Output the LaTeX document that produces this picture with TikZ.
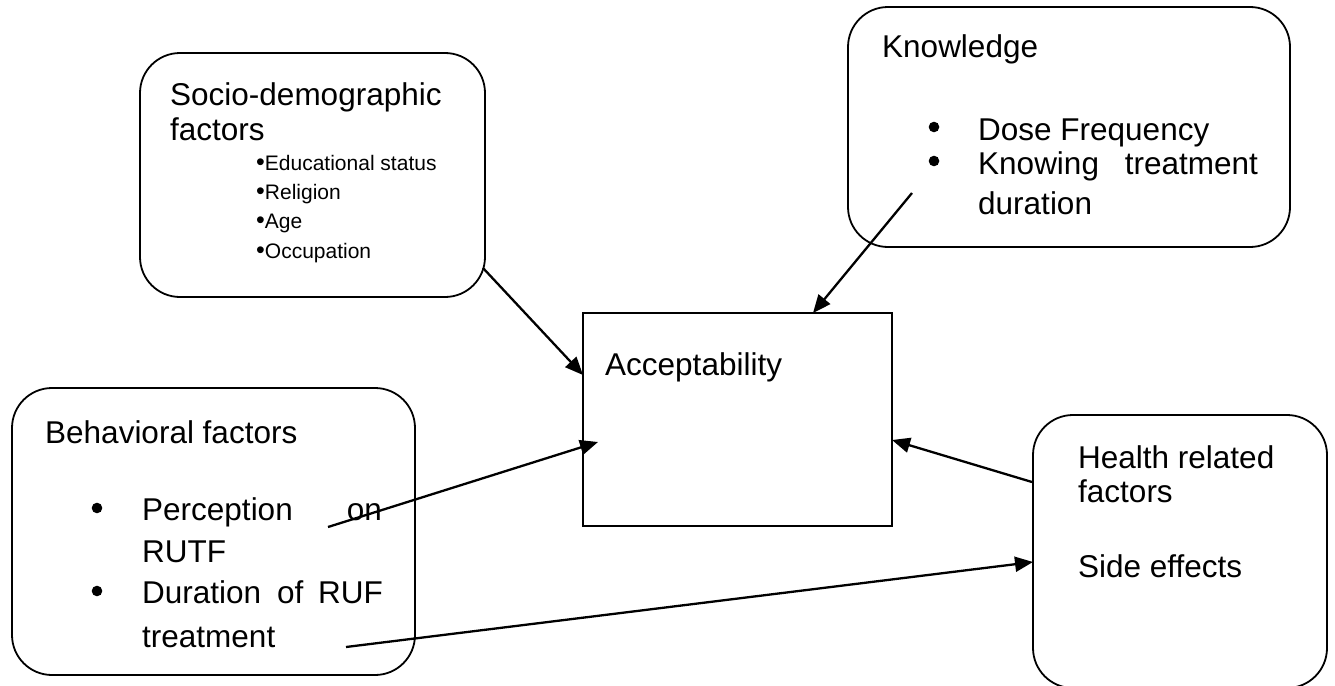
\documentclass[tikz,border=0pt]{standalone}
\usepackage{fontspec}
\setmainfont{Liberation Sans}
\usetikzlibrary{arrows.meta}
\newcommand{\smallbul}{{\fontsize{25}{25}\selectfont •}}
\begin{document}
\begin{tikzpicture}[x=1pt,y=-1pt,
  rbox/.style={draw,line width=1.8pt,rounded corners=40pt,inner sep=0pt},
  sbox/.style={draw,line width=1.8pt,inner sep=0pt},
  txt/.style={anchor=base west,inner sep=0pt,font=\fontsize{31.5}{38}\selectfont},
  txte/.style={anchor=base east,inner sep=0pt,font=\fontsize{31.5}{38}\selectfont},
  small/.style={anchor=base west,inner sep=0pt,font=\fontsize{21}{25}\selectfont},
  bulletdot/.style={fill=black},
  conn/.style={line width=2.3pt,-{Triangle[length=18pt,width=15pt]}}]
\useasboundingbox (0,0) rectangle (1335,685);
% boxes
\node[rbox,minimum width=345pt,minimum height=244pt] (socio) at (312.5,175) {};
\node[rbox,minimum width=442pt,minimum height=240pt] (know) at (1069,127) {};
\node[rbox,minimum width=403pt,minimum height=287pt] (behav) at (213.5,531.5) {};
\node[rbox,minimum width=294pt,minimum height=273pt] (health) at (1180,551.5) {};
\node[sbox,minimum width=309pt,minimum height=213pt] (acc) at (737.5,419.5) {};
% socio texts
\node[txt] (s1) at (170,105) {Socio-demographic};
\node[txt] (s2) at (170,140) {factors};
\node[small] (s3) at (256,170) {\smallbul Educational status};
\node[small] (s4) at (256,199) {\smallbul Religion};
\node[small] (s5) at (256,228) {\smallbul Age};
\node[small] (s6) at (256,258) {\smallbul Occupation};
% knowledge texts
\node[txt] (k1) at (882,58) {Knowledge};
\fill[bulletdot] (934,127) circle (5.3pt);
\node[txt] (k3) at (978,140) {Dose Frequency};
\fill[bulletdot] (934,161) circle (5.3pt);
\node[txt] (k5) at (978,174) {Knowing};
\node[txte] (k6) at (1258,174) {treatment};
\node[txt] (k7) at (978,214) {duration};
% behavioral texts
\node[txt] (b1) at (45,443) {Behavioral factors};
\fill[bulletdot] (97,508) circle (5.3pt);
\node[txt] (b3) at (142,520) {Perception};
\node[txte] (b4) at (382,520) {on};
\node[txt] (b5) at (142,562) {RUTF};
\fill[bulletdot] (97,591) circle (5.3pt);
\node[txt] (b7) at (142,603) {Duration};
\node[txt] (b8) at (277,603) {of};
\node[txte] (b9) at (383,603) {RUF};
\node[txt] (b10) at (142,647) {treatment};
% health texts
\node[txt] (h1) at (1078,468) {Health related};
\node[txt] (h2) at (1078,502) {factors};
\node[txt] (h3) at (1078,577) {Side effects};
% acceptability text
\node[txt] (a1) at (605,375) {Acceptability};
% connector ends
\coordinate (cs) at (483,268);
\coordinate (ts) at (583,375);
\coordinate (ck) at (912,193);
\coordinate (tk) at (813,313);
\coordinate (cb1) at (328,527);
\coordinate (tb1) at (598,442);
\coordinate (ch) at (1032,482);
\coordinate (th) at (892,440);
\coordinate (cb2) at (346,647);
\coordinate (tb2) at (1033,562);
\draw[conn] (cs) -- (ts);
\draw[conn] (ck) -- (tk);
\draw[conn] (cb1) -- (tb1);
\draw[conn] (ch) -- (th);
\draw[conn] (cb2) -- (tb2);
\end{tikzpicture}
\end{document}
